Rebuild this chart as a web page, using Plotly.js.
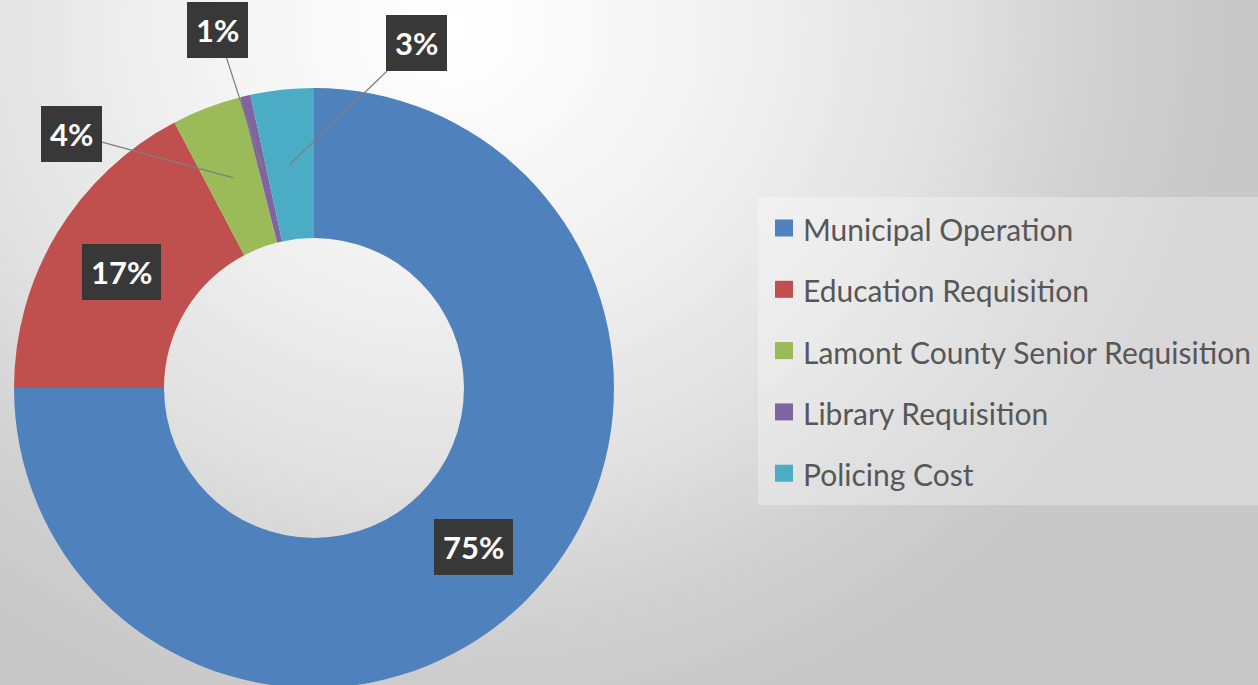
<!DOCTYPE html>
<html><head><meta charset="utf-8">
<script src="https://cdn.plot.ly/plotly-3.0.1.min.js"></script>
<style>
html,body{margin:0;padding:0;width:1258px;height:685px;overflow:hidden;}
body{background: radial-gradient(ellipse 62% 105% at 36% 4%, #ffffff 0%, #f4f4f4 30%, #e2e2e2 62%, #cfcfcf 85%, #c8c8c8 100%);}
#chart{width:1258px;height:700px;}
</style></head><body><div id="chart"></div>
<script>
// ---- data ----
const categories = ['Municipal Operation', 'Education Requisition', 'Lamont County Senior Requisition', 'Library Requisition', 'Policing Cost'];
const values = [75.0, 17.3, 3.75, 0.55, 3.4];
const colors = ['#4F81BD', '#C0504D', '#9BBB59', '#8064A2', '#4BACC6'];

// ---- layout constants ----
const W = 1258, H = 700;
const cx = 314, cy = 388, R = 300, holeFrac = 0.5;
// pixel offsets of moved-out labels (by slice index)
const labelOffsets = {2: [-162, -44], 3: [-45, -139], 4: [126, -121]};
const legendTop = 228, legendGap = 61.3, legendSwatchX = 784, legendTextX = 801;

const total = values.reduce((a, b) => a + b, 0);
const rMid = R * (1 + holeFrac) / 2;

const annotations = [];
const shapes = [];
let cum = 0;
values.forEach((v, i) => {
  const mid = (cum + v / 2) / total * 2 * Math.PI;
  cum += v;
  const px = cx + rMid * Math.sin(mid);
  const py = cy - rMid * Math.cos(mid);
  const off = labelOffsets[i];
  const a = {
    xref: 'paper', yref: 'paper', x: px / W, y: 1 - py / H,
    text: '<b>' + Math.round(v / total * 100) + '%</b>',
    font: {family: 'Lato, "Open Sans", sans-serif', size: 31, color: '#ffffff'},
    bgcolor: '#383838', borderpad: 9, borderwidth: 0,
    xanchor: 'center', yanchor: 'middle', showarrow: false
  };
  if (off) {
    Object.assign(a, {showarrow: true, ax: off[0], ay: off[1], arrowhead: 0,
      arrowwidth: 1.2, arrowcolor: '#7f7f7f', standoff: 0, startstandoff: 0});
  }
  annotations.push(a);
});

// legend built from categories
shapes.push({type: 'rect', xref: 'paper', yref: 'paper', x0: 758 / W, x1: 1, y0: 1 - 505 / H, y1: 1 - 197 / H,
  fillcolor: 'rgba(255,255,255,0.3)', line: {width: 0}, layer: 'below'});
categories.forEach((c, i) => {
  const yc = legendTop + i * legendGap;
  shapes.push({type: 'rect', xref: 'paper', yref: 'paper', xsizemode: 'pixel', ysizemode: 'pixel',
    xanchor: legendSwatchX / W, yanchor: 1 - yc / H, x0: -9, x1: 9, y0: -8.5, y1: 8.5,
    fillcolor: colors[i], line: {width: 0}});
  annotations.push({xref: 'paper', yref: 'paper', x: legendTextX / W, y: 1 - (yc + 1) / H,
    xanchor: 'left', yanchor: 'middle', showarrow: false, text: c,
    font: {family: 'Lato, "Open Sans", sans-serif', size: 30, color: '#575757'}});
});

const trace = {
  type: 'pie', labels: categories, values: values, sort: false, direction: 'clockwise', rotation: 0,
  hole: holeFrac, marker: {colors: colors, line: {width: 0}}, textinfo: 'none', showlegend: false,
  domain: {x: [(cx - R) / W, (cx + R) / W], y: [1 - (cy + R) / H, 1 - (cy - R) / H]},
  hoverinfo: 'label+percent'
};

const layout = {
  width: W, height: H, margin: {l: 0, r: 0, t: 0, b: 0},
  paper_bgcolor: 'rgba(0,0,0,0)', plot_bgcolor: 'rgba(0,0,0,0)',
  showlegend: false, annotations: annotations, shapes: shapes
};
Plotly.newPlot('chart', [trace], layout, {displayModeBar: false, staticPlot: true});
</script></body></html>
